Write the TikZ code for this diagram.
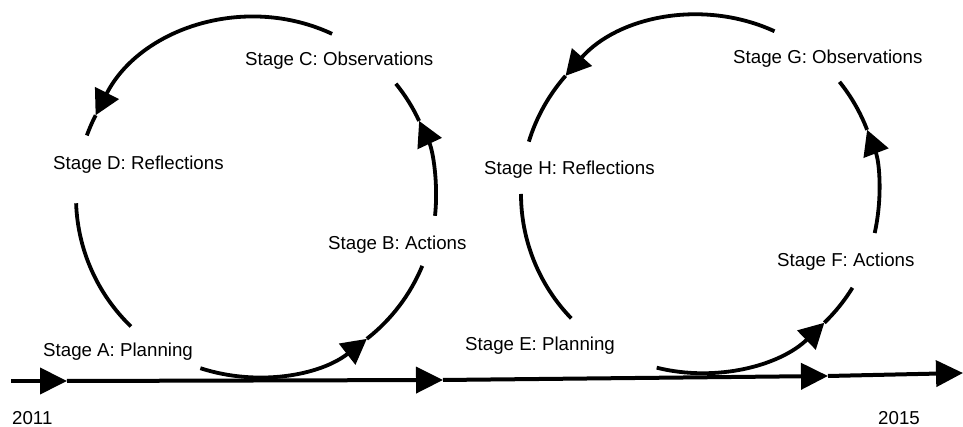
\documentclass[tikz,border=0pt]{standalone}
\usepackage{fontspec}
\setmainfont{Liberation Sans}
\usetikzlibrary{arrows.meta}
\begin{document}
\begin{tikzpicture}[x=1pt,y=1pt,
  cyc/.style={line width=3.8pt},
  tip/.style={-{Triangle[length=25pt,width=26pt]}},
  tl/.style={line width=4pt,-{Triangle[length=27pt,width=26pt]}},
  lbl/.style={anchor=base west,inner sep=0pt,font=\fontsize{18.7}{22}\selectfont}]
\useasboundingbox (0,0) rectangle (963,427);
\coordinate (c1) at (256,230);
\coordinate (c2) at (700,233);
% labels
\node[lbl] (A) at (43,70) {Stage A: Planning};
\node[lbl] (B) at (328,177) {Stage B: Actions};
\node[lbl] (C) at (245,361) {Stage C: Observations};
\node[lbl] (D) at (53,257) {Stage D: Reflections};
\node[lbl] (E) at (465,76) {Stage E: Planning};
\node[lbl] (F) at (777,160) {Stage F: Actions};
\node[lbl] (G) at (733,363) {Stage G: Observations};
\node[lbl] (H) at (484,252) {Stage H: Reflections};
\node[lbl] (y1) at (12,2) {2011};
\node[lbl] (y2) at (878,2) {2015};
% loop 1
\draw[cyc,tip] ([shift={(252:180pt)}]c1) arc[start angle=252,end angle=308,radius=180pt];
\draw[cyc] ([shift={(308:180pt)}]c1) arc[start angle=308,end angle=337.5,radius=180pt];
\draw[cyc,tip] ([shift={(-6:180pt)}]c1) arc[start angle=-6,end angle=25,radius=180pt];
\draw[cyc] ([shift={(25:180pt)}]c1) arc[start angle=25,end angle=39,radius=180pt];
\draw[cyc,tip] ([shift={(65:180pt)}]c1) arc[start angle=65,end angle=153,radius=180pt];
\draw[cyc] ([shift={(153:180pt)}]c1) arc[start angle=153,end angle=160,radius=180pt];
\draw[cyc] ([shift={(182:180pt)}]c1) arc[start angle=182,end angle=226,radius=180pt];
% loop 2
\draw[cyc,tip] ([shift={(256:179pt)}]c2) arc[start angle=256,end angle=314,radius=179pt];
\draw[cyc] ([shift={(314:179pt)}]c2) arc[start angle=314,end angle=328.4,radius=179pt];
\draw[cyc,tip] ([shift={(-12.6:179pt)}]c2) arc[start angle=-12.6,end angle=21,radius=179pt];
\draw[cyc] ([shift={(21:179pt)}]c2) arc[start angle=21,end angle=38.8,radius=179pt];
\draw[cyc,tip] ([shift={(65.4:179pt)}]c2) arc[start angle=65.4,end angle=138.7,radius=179pt];
\draw[cyc] ([shift={(138.7:179pt)}]c2) arc[start angle=138.7,end angle=163,radius=179pt];
\draw[cyc] ([shift={(180:179pt)}]c2) arc[start angle=180,end angle=224,radius=179pt];
% timeline
\coordinate (t0) at (11,46);
\coordinate (t1) at (67,46);
\coordinate (t2) at (443,47);
\coordinate (t3) at (828,51);
\coordinate (t4) at (963,54);
\draw[tl] (t0) -- (t1);
\draw[tl] (t1) -- (t2);
\draw[tl] (t2) -- (t3);
\draw[tl] (t3) -- (t4);
\end{tikzpicture}
\end{document}
